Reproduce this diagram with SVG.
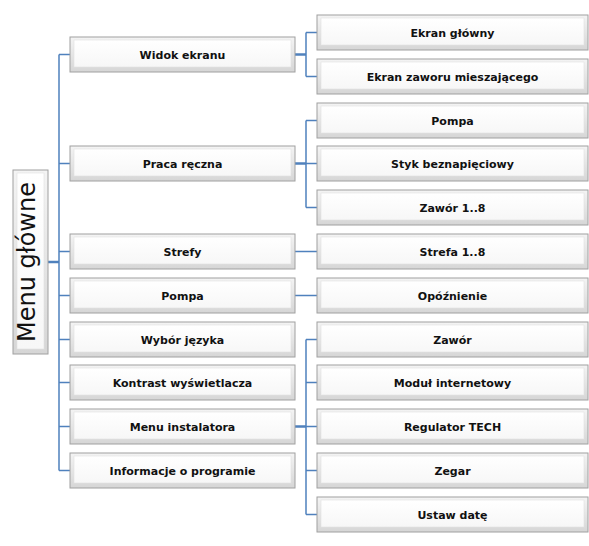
<svg xmlns="http://www.w3.org/2000/svg" width="589" height="546" viewBox="0 0 589 546">
<defs>
<linearGradient id="outer" x1="0" y1="0" x2="0" y2="1">
<stop offset="0" stop-color="#f4f4f4"/>
<stop offset="1" stop-color="#d6d6d6"/>
</linearGradient>
<linearGradient id="face" x1="0" y1="0" x2="0" y2="1">
<stop offset="0" stop-color="#ffffff"/>
<stop offset="1" stop-color="#f7f7f7"/>
</linearGradient>
</defs>
<style>
.o{fill:url(#outer);stroke:#a0a0a0;stroke-width:1}
.f{fill:url(#face);stroke:#e2e2e2;stroke-width:0.6}
.t{font-family:"DejaVu Sans",Verdana,sans-serif;font-weight:bold;font-size:11px;fill:#111;text-anchor:middle}
.c{fill:none;stroke:#4f81bd;stroke-width:1.5}
.c2{fill:none;stroke:#4f81bd;stroke-width:2.5}
</style>
<rect width="589" height="546" fill="#fff"/>

<g id="connectors">
<path class="c" d="M59,54.5V470.5M59,54.5H70M59,163.5H70M59,251.5H70M59,295.5H70M59,339.5H70M59,382.5H70M59,426.5H70M59,470.5H70"/>
<path class="c2" d="M48,262H59"/>
<path class="c2" d="M295,54.5H306"/>
<path class="c" d="M306,32.5V76.5M306,32.5H317M306,76.5H317"/>
<path class="c2" d="M295,163.5H306"/>
<path class="c" d="M306,120.5V207.5M306,120.5H317M306,163.5H317M306,207.5H317"/>
<path class="c" d="M295,251.5H317M295,295.5H317"/>
<path class="c2" d="M295,426.5H306"/>
<path class="c" d="M306,339.5V514.5M306,339.5H317M306,382.5H317M306,426.5H317M306,470.5H317M306,514.5H317"/>
</g>

<g id="menu-glowne">
<rect class="o" x="13" y="170" width="35" height="184"/>
<rect class="f" x="17" y="173" width="27" height="176"/>
<text transform="translate(35,262) rotate(-90)" font-family="DejaVu Sans,Verdana,sans-serif" font-size="24" fill="#111" text-anchor="middle">Menu główne</text>
</g>

<g id="widok-ekranu"><rect class="o" x="70" y="37" width="225" height="35"/><rect class="f" x="74" y="40" width="217" height="27"/><text class="t" x="182.5" y="58.5">Widok ekranu</text></g>
<g id="praca-reczna"><rect class="o" x="70" y="146" width="225" height="35"/><rect class="f" x="74" y="149" width="217" height="27"/><text class="t" x="182.5" y="167.5">Praca ręczna</text></g>
<g id="strefy"><rect class="o" x="70" y="234" width="225" height="35"/><rect class="f" x="74" y="237" width="217" height="27"/><text class="t" x="182.5" y="255.5">Strefy</text></g>
<g id="pompa"><rect class="o" x="70" y="278" width="225" height="35"/><rect class="f" x="74" y="281" width="217" height="27"/><text class="t" x="182.5" y="299.5">Pompa</text></g>
<g id="wybor-jezyka"><rect class="o" x="70" y="322" width="225" height="35"/><rect class="f" x="74" y="325" width="217" height="27"/><text class="t" x="182.5" y="343.5">Wybór języka</text></g>
<g id="kontrast"><rect class="o" x="70" y="365" width="225" height="35"/><rect class="f" x="74" y="368" width="217" height="27"/><text class="t" x="182.5" y="386.5">Kontrast wyświetlacza</text></g>
<g id="menu-instalatora"><rect class="o" x="70" y="409" width="225" height="35"/><rect class="f" x="74" y="412" width="217" height="27"/><text class="t" x="182.5" y="430.5">Menu instalatora</text></g>
<g id="informacje"><rect class="o" x="70" y="453" width="225" height="35"/><rect class="f" x="74" y="456" width="217" height="27"/><text class="t" x="182.5" y="474.5">Informacje o programie</text></g>

<g id="ekran-glowny"><rect class="o" x="317" y="15" width="271" height="35"/><rect class="f" x="321" y="18" width="263" height="27"/><text class="t" x="452.5" y="36.5">Ekran główny</text></g>
<g id="ekran-zaworu"><rect class="o" x="317" y="59" width="271" height="35"/><rect class="f" x="321" y="62" width="263" height="27"/><text class="t" x="452.5" y="80.5">Ekran zaworu mieszającego</text></g>
<g id="pompa-reczna"><rect class="o" x="317" y="103" width="271" height="35"/><rect class="f" x="321" y="106" width="263" height="27"/><text class="t" x="452.5" y="124.5">Pompa</text></g>
<g id="styk"><rect class="o" x="317" y="146" width="271" height="35"/><rect class="f" x="321" y="149" width="263" height="27"/><text class="t" x="452.5" y="167.5">Styk beznapięciowy</text></g>
<g id="zawor-1-8"><rect class="o" x="317" y="190" width="271" height="35"/><rect class="f" x="321" y="193" width="263" height="27"/><text class="t" x="452.5" y="211.5">Zawór 1..8</text></g>
<g id="strefa-1-8"><rect class="o" x="317" y="234" width="271" height="35"/><rect class="f" x="321" y="237" width="263" height="27"/><text class="t" x="452.5" y="255.5">Strefa 1..8</text></g>
<g id="opoznienie"><rect class="o" x="317" y="278" width="271" height="35"/><rect class="f" x="321" y="281" width="263" height="27"/><text class="t" x="452.5" y="299.5">Opóźnienie</text></g>
<g id="zawor"><rect class="o" x="317" y="322" width="271" height="35"/><rect class="f" x="321" y="325" width="263" height="27"/><text class="t" x="452.5" y="343.5">Zawór</text></g>
<g id="modul-internetowy"><rect class="o" x="317" y="365" width="271" height="35"/><rect class="f" x="321" y="368" width="263" height="27"/><text class="t" x="452.5" y="386.5">Moduł internetowy</text></g>
<g id="regulator-tech"><rect class="o" x="317" y="409" width="271" height="35"/><rect class="f" x="321" y="412" width="263" height="27"/><text class="t" x="452.5" y="430.5">Regulator TECH</text></g>
<g id="zegar"><rect class="o" x="317" y="453" width="271" height="35"/><rect class="f" x="321" y="456" width="263" height="27"/><text class="t" x="452.5" y="474.5">Zegar</text></g>
<g id="ustaw-date"><rect class="o" x="317" y="497" width="271" height="35"/><rect class="f" x="321" y="500" width="263" height="27"/><text class="t" x="452.5" y="518.5">Ustaw datę</text></g>
</svg>
